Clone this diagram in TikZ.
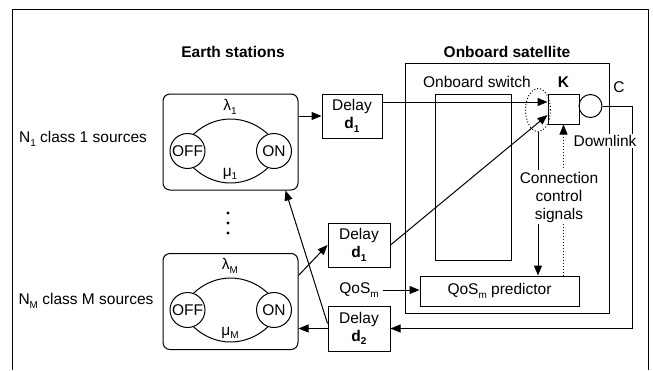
\documentclass[tikz,border=0pt]{standalone}
\usepackage{fontspec}
\setmainfont{Liberation Sans}
\usetikzlibrary{arrows.meta,shapes.geometric}

% small lowered index, as in N_1 or QoS_m
\newcommand{\lowidx}[1]{\raisebox{-0.45ex}{\fontsize{10}{10}\selectfont #1}}

\begin{document}
\begin{tikzpicture}[x=1pt,y=-1pt,line width=1pt,
    font=\fontsize{15.5}{18}\selectfont,
    >={Triangle[length=10pt,width=8pt]},
    stn/.style={draw,rounded corners=7pt,minimum width=135pt,minimum height=96pt},
    dlybox/.style={draw,minimum width=62pt,minimum height=44pt,align=center,inner sep=0pt},
    state/.style={draw,circle,minimum size=35pt,inner sep=0pt},
    head/.style={font=\fontsize{15.5}{18}\selectfont\bfseries},
    txt/.style={fill=white,inner sep=1.5pt}]
    \useasboundingbox (0,0) rectangle (653,370);
    % Frame
    \draw (12,370) -- (12,9) -- (648,9) -- (648,370);
    \node[head] (eshead) at (233,52) {Earth stations};
    \node[head] (sathead) at (507,52) {Onboard satellite};

    % Sources
    \node (n1) at (83,139) {N\lowidx{1} class 1 sources};
    \node (nM) at (86,301) {N\lowidx{M} class M sources};
    \node[stn] (es1) at (230.5,142) {};
    \node[stn] (esM) at (230.5,301.5) {};
    \foreach \k/\y in {1/151,M/310} {
        \node[state] (off\k) at (187.5,\y) {OFF};
        \node[state] (on\k) at (274,\y) {ON};
        \draw (off\k.70) .. controls (215,\y-37) and (246,\y-37) .. (on\k.110);
        \draw (off\k.-70) .. controls (215,\y+37) and (246,\y+37) .. (on\k.-110);
        \node (lam\k) at (230,\y-44) {λ\lowidx{\k}};
        \node (mu\k) at (230,\y+23) {μ\lowidx{\k}};
    }
    \foreach \y in {213,223,233}
        \fill (228,\y) circle (1.7pt);

    % Delays
    \node[dlybox,minimum width=60pt] (dA) at (352,116) {Delay\\\textbf{d\lowidx{1}}};
    \node[dlybox] (dB) at (359,245) {Delay\\\textbf{d\lowidx{1}}};
    \node[dlybox,minimum height=45pt] (dC) at (359,328.5) {Delay\\\textbf{d\lowidx{2}}};

    % Satellite
    \node[draw,minimum width=204pt,minimum height=250pt] (sat) at (507,188) {};
    \node[draw,minimum width=76pt,minimum height=166pt] (sw) at (473,177) {};
    \node (swlabel) at (477,82) {Onboard switch};
    \node[draw,minimum width=31pt,minimum height=30pt] (kbox) at (563.5,109) {};
    \node[head] (klabel) at (563.5,82) {K};
    \node[draw,circle,minimum size=23pt,inner sep=0pt] (buf) at (590.5,106) {};
    \node (clabel) at (619,87) {C};
    \node[draw,dotted,ellipse,minimum width=25pt,minimum height=43pt] (sel) at (538,110) {};
    \node[draw,minimum width=159pt,minimum height=30pt] (pred) at (499.5,291) {QoS\lowidx{m} predictor};
    \node (qos) at (359,290) {QoS\lowidx{m}};
    \coordinate (kin1) at ([yshift=7pt]kbox.west);
    \coordinate (kin2) at ([yshift=-6pt]kbox.west);

    % Connections
    \draw[->] (es1.east |- dA.west) -- (dA.west);
    \draw[->] (dA.east |- kin1) -- (kin1);
    \draw[->] ([yshift=26pt]esM.east) -- (dB.west);
    \draw[->] (dB.east) -- (kin2);
    \draw[->] (buf.east) -- ++(30,0) |- (dC.east);
    \draw[->] (dC.west) -- (esM.east |- dC.west);
    \draw[->] ([yshift=5pt]dC.west) -- ([xshift=-13pt]es1.south east);
    \draw[->] (qos.east) -- (pred.west |- qos.east);
    \draw[->] (sel.south) -- (sel.south |- pred.north);
    \draw[->,dotted] (kbox.south |- pred.north) -- (kbox.south);

    % Labels over the lines
    \node[txt,align=center] (ccs) at (559,197) {Connection\\control\\signals};
    \node[txt] (dl) at (605,141) {Downlink};
\end{tikzpicture}
\end{document}
